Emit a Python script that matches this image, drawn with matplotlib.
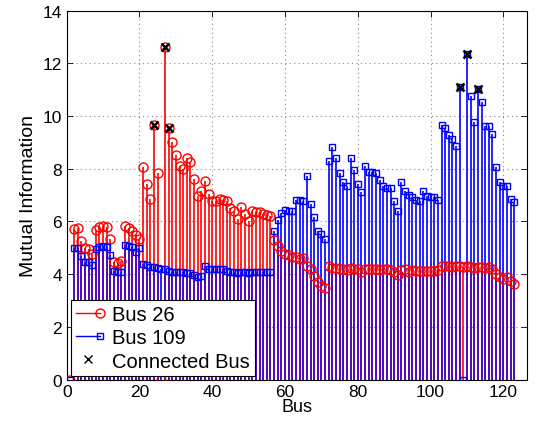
import matplotlib
matplotlib.use("Agg")
import matplotlib.pyplot as plt
import numpy as np
from matplotlib.lines import Line2D
from matplotlib.legend_handler import HandlerBase

plt.rcParams['font.family'] = ['Liberation Sans', 'DejaVu Sans']

buses = list(range(1, 124))

mi_bus26 = [
    0.00, 5.71, 5.74, 5.27, 4.98, 4.95, 4.76, 5.69, 5.78, 5.81,
    5.78, 5.33, 4.47, 4.44, 4.51, 5.84, 5.74, 5.65, 5.48, 5.35,
    8.05, 7.42, 6.85, 9.66, 7.84, 0.00, 12.62, 9.54, 9.00, 8.54,
    8.12, 7.99, 8.39, 8.24, 7.61, 6.98, 7.15, 7.55, 7.04, 6.79,
    6.79, 6.84, 6.80, 6.79, 6.50, 6.40, 6.10, 6.55, 6.30, 6.00,
    6.41, 6.37, 6.34, 6.30, 6.26, 6.22, 5.30, 5.08, 4.89, 4.76,
    4.74, 4.67, 4.64, 4.57, 4.60, 4.32, 4.19, 3.94, 3.69, 3.56,
    3.48, 4.32, 4.25, 4.22, 4.20, 4.18, 4.15, 4.22, 4.18, 4.20,
    4.07, 4.20, 4.20, 4.18, 4.20, 4.17, 4.20, 4.18, 4.15, 4.10,
    3.98, 4.15, 4.18, 4.10, 4.15, 4.12, 4.12, 4.12, 4.12, 4.12,
    4.12, 4.15, 4.30, 4.30, 4.30, 4.28, 4.30, 4.30, 4.28, 4.30,
    4.28, 4.25, 4.28, 4.27, 4.25, 4.27, 4.20, 4.00, 3.90, 3.82,
    3.90, 3.75, 3.62,
]

mi_bus109 = [
    0.00, 4.98, 4.98, 4.70, 4.47, 4.47, 4.35, 4.95, 5.02, 5.05,
    5.02, 4.72, 4.13, 4.09, 4.09, 5.10, 5.05, 5.02, 4.83, 4.98,
    4.38, 4.35, 4.26, 4.28, 4.22, 4.20, 4.18, 4.13, 4.10, 4.10,
    4.10, 4.08, 4.06, 4.03, 3.95, 3.88, 3.92, 4.32, 4.19, 4.19,
    4.19, 4.18, 4.19, 4.13, 4.07, 4.07, 4.05, 4.07, 4.07, 4.05,
    4.07, 4.07, 4.07, 4.07, 4.07, 4.07, 5.65, 6.07, 6.32, 6.45,
    6.40, 6.40, 6.82, 6.82, 6.78, 7.71, 6.66, 6.16, 5.65, 5.52,
    5.33, 8.30, 8.84, 8.39, 7.84, 7.51, 7.33, 8.39, 7.96, 7.42,
    7.10, 8.11, 7.89, 7.87, 7.84, 7.57, 7.33, 7.26, 7.26, 6.76,
    6.41, 7.51, 7.15, 7.00, 6.93, 6.82, 6.79, 7.15, 6.95, 6.91,
    6.91, 6.82, 9.66, 9.55, 9.28, 9.13, 8.87, 11.09, 0.00, 12.35,
    10.77, 9.76, 11.02, 10.54, 9.61, 9.61, 9.32, 8.05, 7.48, 7.36,
    7.35, 6.85, 6.75,
]

connected_26 = [24, 27, 28]
connected_109 = [108, 110, 113]

x = np.array(buses)
r = np.array(mi_bus26)
b = np.array(mi_bus109)

RED = '#ff0000'
BLUE = '#0000ff'
PURPLE = '#5a10b0'

fig = plt.figure(figsize=(5.40, 4.31), dpi=100)
ax = fig.add_axes([0.1235, 0.117, 0.8525, 0.856])

lw = 1.2
ax.vlines(x, 0, r, colors=RED, linewidth=lw, zorder=2)
ax.vlines(x, 0, b, colors=BLUE, linewidth=lw, zorder=3)
ax.vlines(x, 0, np.minimum(r, b), colors=PURPLE, linewidth=lw, zorder=4)

ax.plot(x, r, linestyle='none', marker='o', markersize=6.5, markerfacecolor='none',
        markeredgecolor=RED, markeredgewidth=1.0, zorder=5)
ax.plot(x, b, linestyle='none', marker='s', markersize=5, markerfacecolor='none',
        markeredgecolor=BLUE, markeredgewidth=1.0, zorder=6)

cx = connected_26 + connected_109
cy = [mi_bus26[i - 1] for i in connected_26] + [mi_bus109[i - 1] for i in connected_109]
ax.plot(cx, cy, linestyle='none', marker='x', markersize=6, color='black',
        markeredgewidth=1.8, zorder=7)

ax.set_xlim(0, 126.5)
ax.set_ylim(0, 14)
ax.set_xticks(range(0, 121, 20))
ax.set_yticks(range(0, 15, 2))
ax.tick_params(direction='in', top=True, right=True, labelsize=12.5, length=4, width=0.6)
ax.grid(True, linestyle=(0, (1, 3)), color='#888888', linewidth=0.8)
ax.set_axisbelow(True)
for s in ax.spines.values():
    s.set_linewidth(0.8)
ax.set_xlabel('Bus', fontsize=13, labelpad=-1)
ax.set_ylabel('Mutual Information', fontsize=14, labelpad=4)


class StemHandler(HandlerBase):
    def __init__(self, color, marker, ms):
        super().__init__()
        self.color = color
        self.marker = marker
        self.ms = ms

    def create_artists(self, legend, orig_handle, xdescent, ydescent, width, height, fontsize, trans):
        y = height / 2 - ydescent
        ln = Line2D([-xdescent, width - xdescent], [y, y], color=self.color, lw=1.0, transform=trans)
        mk = Line2D([width - xdescent], [y], linestyle='none', marker=self.marker,
                    markersize=self.ms, markerfacecolor='none', markeredgecolor=self.color,
                    markeredgewidth=1.0, transform=trans)
        return [ln, mk]


h1 = Line2D([], [], color=RED)
h2 = Line2D([], [], color=BLUE)
h3 = Line2D([], [], linestyle='none', marker='x', color='black', markersize=6, markeredgewidth=1.0)
leg = ax.legend([h1, h2, h3], ['Bus 26', 'Bus 109', 'Connected Bus'],
                handler_map={h1: StemHandler(RED, 'o', 6.5), h2: StemHandler(BLUE, 's', 5)},
                loc='lower left', bbox_to_anchor=(0.0, 0.0), borderaxespad=0.2,
                fontsize=14.5, frameon=True, fancybox=False, edgecolor='black',
                framealpha=1, handlelength=1.2, handletextpad=0.6, labelspacing=0.22,
                borderpad=0.25)
leg.get_frame().set_linewidth(0.8)
leg.set_zorder(10)

fig.savefig('out.png', dpi=100)
